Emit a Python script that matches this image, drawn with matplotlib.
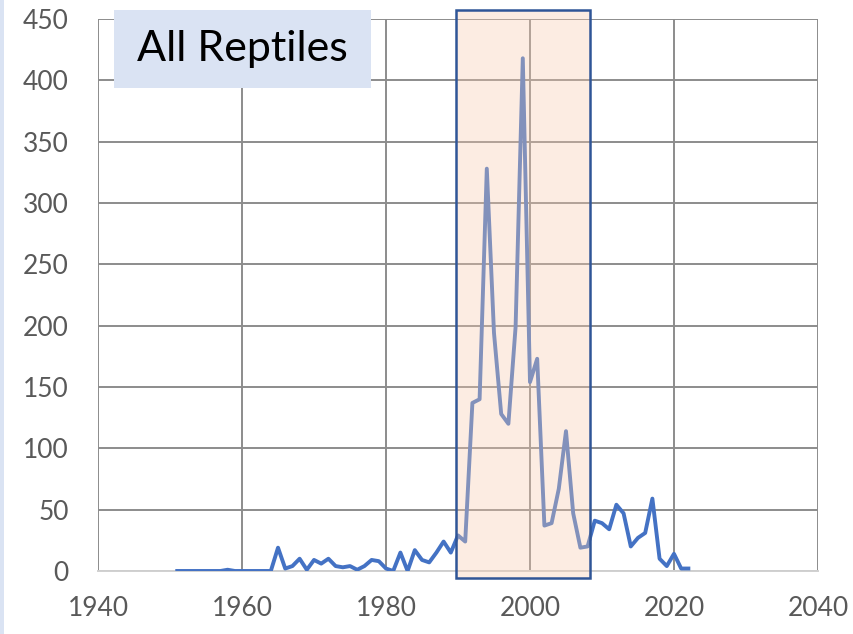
"""
All Reptiles: yearly counts 1951-2022 with the 1990-2008 window highlighted.
"""

import matplotlib
matplotlib.use("Agg")
import matplotlib.pyplot as plt
from matplotlib.patches import Rectangle

# data
years = list(range(1951, 2023))
counts = [
    0, 0, 0, 0, 0, 0, 0, 1, 0, 0,          # 1951-1960
    0, 0, 0, 0, 19, 2, 4, 10, 1, 9,        # 1961-1970
    6, 10, 4, 3, 4, 1, 4, 9, 8, 2,         # 1971-1980
    0, 15, 0, 17, 9, 7, 15, 24, 15, 29,    # 1981-1990
    24, 137, 140, 328, 194, 128, 120, 199, 418, 154,  # 1991-2000
    173, 37, 39, 67, 114, 47, 19, 20, 41, 39,         # 2001-2010
    34, 54, 47, 20, 27, 31, 59, 10, 4, 14,            # 2011-2020
    2, 2,                                              # 2021-2022
]
x_ticks = [1940, 1960, 1980, 2000, 2020, 2040]
y_ticks = [0, 50, 100, 150, 200, 250, 300, 350, 400, 450]
highlight = (1989.7, 2008.3)
title = "All Reptiles"

plt.rcParams["font.family"] = ["Lato", "DejaVu Sans"]

fig = plt.figure(figsize=(8.54, 6.34), dpi=100)
ax = fig.add_axes([0.1148, 0.0994, 0.843, 0.8706])

ax.plot(years, counts, color="#4472C4", lw=2.8, zorder=3)

ax.set_xlim(1940, 2040)
ax.set_ylim(0, 450)
ax.set_xticks(x_ticks)
ax.set_yticks(y_ticks)
ax.tick_params(length=0, labelsize=19, labelcolor="#595959")
ax.tick_params(axis="y", pad=21)
ax.tick_params(axis="x", pad=18)

ax.grid(True, color="#8C8C8C", lw=1.4, zorder=0)
ax.set_axisbelow(True)
for side in ["top", "right", "left"]:
    ax.spines[side].set_visible(False)
ax.spines["bottom"].set_color("#D0D0D0")
ax.spines["bottom"].set_linewidth(1.4)

# highlighted window, drawn over the line
rect = Rectangle((highlight[0], -5.7), highlight[1] - highlight[0], 463,
                 facecolor="#F8CBAD", alpha=0.35, edgecolor="none",
                 zorder=4, clip_on=False)
ax.add_patch(rect)
edge = Rectangle((highlight[0], -5.7), highlight[1] - highlight[0], 463,
                 facecolor="none", edgecolor="#2F5597", lw=1.8,
                 zorder=5, clip_on=False)
ax.add_patch(edge)

# title label box
fig.patches.append(Rectangle((114 / 854, 1 - 88 / 634), 257 / 854, 78 / 634,
                             transform=fig.transFigure, facecolor="#DAE3F3",
                             edgecolor="none", zorder=0.5))
fig.text(242 / 854, 1 - 49 / 634, title, fontsize=31, color="black",
         ha="center", va="center")

# thin blue strip at left edge
fig.patches.append(Rectangle((0, 0), 4 / 854, 1, transform=fig.transFigure,
                             facecolor="#DAE3F3", edgecolor="none"))

fig.savefig("out.png", dpi=100)
